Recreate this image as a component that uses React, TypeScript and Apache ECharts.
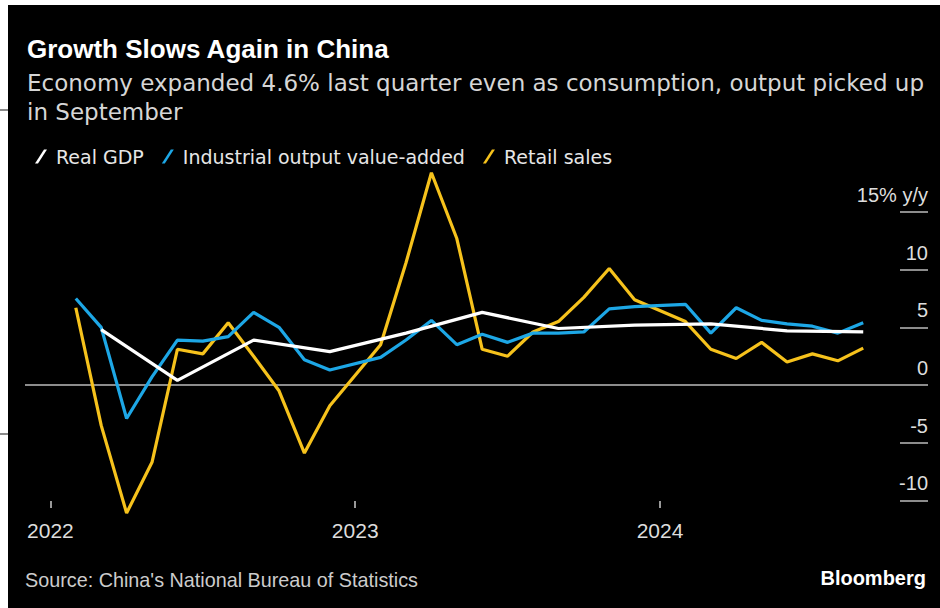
import React, { useEffect, useRef } from "react";
import * as echarts from "echarts";

// Month index: 0 = Jan 2022 (Jan-Feb combined values plotted at Feb)
const industrialMonths = [1, 2, 3, 4, 5, 6, 7, 8, 9, 10, 11, 13, 14, 15, 16, 17, 18, 19, 20, 21, 22, 23, 25, 26, 27, 28, 29, 30, 31, 32];
const industrialValues = [7.5, 5.0, -2.9, 0.7, 3.9, 3.8, 4.2, 6.3, 5.0, 2.2, 1.3, 2.4, 3.9, 5.6, 3.5, 4.4, 3.7, 4.5, 4.5, 4.6, 6.6, 6.8, 7.0, 4.5, 6.7, 5.6, 5.3, 5.1, 4.5, 5.4];

const retailMonths = industrialMonths;
const retailValues = [6.7, -3.5, -11.1, -6.7, 3.1, 2.7, 5.4, 2.5, -0.5, -5.9, -1.8, 3.5, 10.6, 18.4, 12.7, 3.1, 2.5, 4.6, 5.5, 7.6, 10.1, 7.4, 5.5, 3.1, 2.3, 3.7, 2.0, 2.7, 2.1, 3.2];

const gdpMonths = [2, 5, 8, 11, 14, 17, 20, 23, 26, 29, 32];
const gdpValues = [4.8, 0.4, 3.9, 2.9, 4.5, 6.3, 4.9, 5.2, 5.3, 4.7, 4.6];

const yearTickMonths = [0, 12, 24];
const yTickValues = [-10, -5, 5, 10, 15];
const yLabelValues = [-10, -5, 0, 5, 10, 15];

const seriesNames = ["Real GDP", "Industrial output value-added", "Retail sales"];

const title = "Growth Slows Again in China";
const subtitle1 = "Economy expanded 4.6% last quarter even as consumption, output picked up";
const subtitle2 = "in September";
const source = "Source: China's National Bureau of Statistics";
const brand = "Bloomberg";

const WHITE = "#ffffff";
const BLUE = "#1da7e6";
const YELLOW = "#f6c21c";
const FONT = "'Liberation Sans', Arial, Helvetica, sans-serif";
const WIDE = "'DejaVu Sans', 'Liberation Sans', sans-serif";

const pairs = (xs: number[], ys: number[]) => xs.map((x, i) => [x, ys[i]]);

export default function App() {
  const ref = useRef<HTMLDivElement>(null);

  useEffect(() => {
    if (!ref.current) return;
    const chart = echarts.init(ref.current, undefined, { renderer: "svg" });
    const slash = "path://M0,14 L9,0 L12,0 L3,14 Z";
    chart.setOption({
      animation: false,
      backgroundColor: "#000000",
      textStyle: { fontFamily: FONT },
      grid: { left: 17, right: 12, top: 207, bottom: 100, containLabel: false },
      legend: {
        left: 22,
        top: 137,
        itemWidth: 12,
        itemHeight: 14,
        itemGap: 18,
        icon: slash,
        data: seriesNames,
        textStyle: { color: "#e6e6e6", fontSize: 19, fontFamily: WIDE, padding: [0, 0, 0, 4] },
      },
      xAxis: {
        type: "value",
        min: -1,
        max: 34.55,
        axisLine: { show: false, onZero: false },
        splitLine: { show: false },
        axisTick: {
          show: true,
          customValues: yearTickMonths,
          inside: true,
          length: 7,
          lineStyle: { color: "#cccccc", width: 1.5 },
        },
        axisLabel: {
          customValues: yearTickMonths,
          formatter: (v: number) => String(2022 + Math.round(v / 12)),
          color: "#dddddd",
          fontSize: 21,
          margin: 12,
          fontFamily: FONT,
        },
      },
      yAxis: {
        type: "value",
        position: "right",
        min: -10.66,
        max: 15,
        axisLine: { show: false, onZero: false },
        splitLine: { show: false },
        axisTick: {
          show: true,
          customValues: yTickValues,
          inside: true,
          length: 28,
          lineStyle: { color: "#bbbbbb", width: 1.5 },
        },
        axisLabel: {
          customValues: yLabelValues,
          inside: true,
          margin: 0,
          align: "right",
          verticalAlign: "bottom",
          padding: [0, 0, 7, 0],
          formatter: (v: number) => (v === 15 ? "15% y/y" : String(v)),
          color: "#dddddd",
          fontSize: 20,
          fontFamily: FONT,
        },
      },
      series: [
        {
          name: seriesNames[2],
          type: "line",
          data: pairs(retailMonths, retailValues),
          showSymbol: false,
          clip: false,
          z: 2,
          itemStyle: { color: YELLOW },
          lineStyle: { color: YELLOW, width: 3.2 },
          markLine: {
            silent: true,
            symbol: "none",
            label: { show: false },
            lineStyle: { color: "#bbbbbb", width: 1.5, type: "solid" },
            data: [{ yAxis: 0 }],
            z: 1,
          },
        },
        {
          name: seriesNames[1],
          type: "line",
          data: pairs(industrialMonths, industrialValues),
          showSymbol: false,
          clip: false,
          z: 3,
          itemStyle: { color: BLUE },
          lineStyle: { color: BLUE, width: 3.2 },
        },
        {
          name: seriesNames[0],
          type: "line",
          data: pairs(gdpMonths, gdpValues),
          showSymbol: false,
          clip: false,
          z: 4,
          itemStyle: { color: WHITE },
          lineStyle: { color: WHITE, width: 3.2 },
        },
      ],
      graphic: [
        {
          type: "text",
          x: 19,
          y: 44,
          style: { text: title, fill: "#ffffff", font: `bold 26px ${FONT}`, verticalAlign: "middle" },
        },
        {
          type: "text",
          x: 19,
          y: 77.5,
          style: { text: subtitle1, fill: "#d6d6d6", font: `23px ${WIDE}`, verticalAlign: "middle" },
        },
        {
          type: "text",
          x: 19,
          y: 107,
          style: { text: subtitle2, fill: "#d6d6d6", font: `23px ${WIDE}`, verticalAlign: "middle" },
        },
        {
          type: "text",
          x: 17,
          y: 575,
          style: { text: source, fill: "#cccccc", font: `19.8px ${FONT}`, verticalAlign: "middle" },
        },
        {
          type: "text",
          x: 918,
          y: 573,
          style: { text: brand, fill: "#ffffff", font: `bold 20px ${FONT}`, verticalAlign: "middle", align: "right" },
        },
      ],
    });
    return () => chart.dispose();
  }, []);

  return (
    <>
      <div style={{ position: "absolute", left: 0, top: 109, width: 8, height: 2, background: "#8a8a8a" }} />
      <div style={{ position: "absolute", left: 0, top: 433, width: 8, height: 2, background: "#8a8a8a" }} />
      <div
        ref={ref}
        style={{ position: "absolute", left: 8, top: 5, width: 932, height: 603, background: "#000" }}
      />
    </>
  );
}
